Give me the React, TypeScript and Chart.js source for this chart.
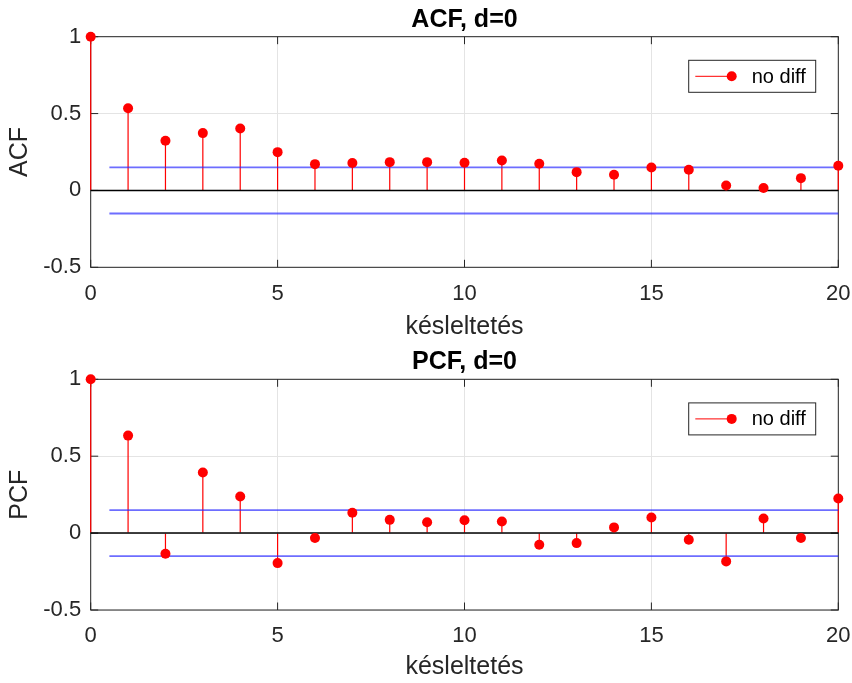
import React, { useEffect, useRef } from "react";
import { Chart, registerables } from "chart.js";

Chart.register(...registerables);

// ---- data ----
const lags = [0, 1, 2, 3, 4, 5, 6, 7, 8, 9, 10, 11, 12, 13, 14, 15, 16, 17, 18, 19, 20];
const acfValues = [1, 0.535, 0.323, 0.373, 0.403, 0.249, 0.171, 0.178, 0.184, 0.184, 0.18, 0.195, 0.173, 0.119, 0.102, 0.149, 0.134, 0.032, 0.016, 0.08, 0.16];
const pcfValues = [1, 0.634, -0.134, 0.394, 0.238, -0.195, -0.032, 0.132, 0.086, 0.071, 0.084, 0.076, -0.076, -0.065, 0.037, 0.101, -0.043, -0.184, 0.095, -0.032, 0.225];
const confBound = 0.15;
const boundStart = 0.5;
const xTicks = [0, 5, 10, 15, 20];
const yTicks = [-0.5, 0, 0.5, 1];
const seriesLabel = "no diff";
const xTitle = "késleltetés";
const acfTitle = "ACF, d=0";
const pcfTitle = "PCF, d=0";

const FAMILY = "'Liberation Sans', Arial, Helvetica, sans-serif";
const AXIS_COLOR = "#262626";
const RED = "#ff0000";
const BLUE = "rgba(40,40,255,0.68)";

type Geo = { H: number; top: number; bottom: number; titlePadTop: number };

const boxPlugin = {
  id: "matlabBox",
  beforeDatasetsDraw(chart: any) {
    const { ctx, chartArea: a, scales } = chart;
    ctx.save();
    ctx.strokeStyle = AXIS_COLOR;
    ctx.lineWidth = 1;
    ctx.strokeRect(a.left, a.top, a.right - a.left, a.bottom - a.top);
    const tl = 7.5;
    ctx.beginPath();
    xTicks.forEach((v) => {
      const px = scales.x.getPixelForValue(v);
      ctx.moveTo(px, a.bottom);
      ctx.lineTo(px, a.bottom - tl);
      ctx.moveTo(px, a.top);
      ctx.lineTo(px, a.top + tl);
    });
    yTicks.forEach((v) => {
      const py = scales.y.getPixelForValue(v);
      ctx.moveTo(a.left, py);
      ctx.lineTo(a.left + tl, py);
      ctx.moveTo(a.right, py);
      ctx.lineTo(a.right - tl, py);
    });
    ctx.stroke();
    ctx.restore();
  },
  afterDraw(chart: any) {
    const { ctx, chartArea: a } = chart;
    const w = 127;
    const h = 32;
    const left = a.right - 22.6 - w;
    const top = a.top + 23.6;
    ctx.save();
    ctx.fillStyle = "#ffffff";
    ctx.fillRect(left, top, w, h);
    ctx.strokeStyle = AXIS_COLOR;
    ctx.lineWidth = 1;
    ctx.strokeRect(left, top, w, h);
    const cy = top + h / 2;
    ctx.strokeStyle = RED;
    ctx.beginPath();
    ctx.moveTo(left + 6.6, cy);
    ctx.lineTo(left + 43, cy);
    ctx.stroke();
    ctx.fillStyle = RED;
    ctx.beginPath();
    ctx.arc(left + 43, cy, 5, 0, Math.PI * 2);
    ctx.fill();
    ctx.fillStyle = "#000";
    ctx.font = `20px ${FAMILY}`;
    ctx.textBaseline = "middle";
    ctx.textAlign = "left";
    ctx.fillText(seriesLabel, left + 63, cy + 1);
    ctx.restore();
  },
};

function makeConfig(values: number[], title: string, yLabel: string, g: Geo): any {
  const pts = lags.map((l, i) => ({ x: l, y: values[i] }));
  const first = lags[0];
  const last = lags[lags.length - 1];
  return {
    type: "scatter",
    data: {
      datasets: [
        {
          type: "scatter",
          label: seriesLabel,
          data: pts,
          pointRadius: 5,
          pointHoverRadius: 5,
          backgroundColor: RED,
          borderWidth: 0,
          clip: false,
          order: 0,
        },
        {
          type: "line",
          data: [
            { x: first, y: 0 },
            { x: last, y: 0 },
          ],
          showLine: true,
          borderColor: "#000000",
          borderWidth: 1.5,
          pointRadius: 0,
          clip: false,
          order: 1,
        },
        {
          type: "line",
          data: [
            { x: boundStart, y: confBound },
            { x: last, y: confBound },
          ],
          showLine: true,
          borderColor: BLUE,
          borderWidth: 1.8,
          pointRadius: 0,
          clip: false,
          order: 2,
        },
        {
          type: "line",
          data: [
            { x: boundStart, y: -confBound },
            { x: last, y: -confBound },
          ],
          showLine: true,
          borderColor: BLUE,
          borderWidth: 1.8,
          pointRadius: 0,
          clip: false,
          order: 2,
        },
        {
          type: "bar",
          data: pts,
          backgroundColor: RED,
          borderWidth: 0,
          barThickness: 1.2,
          inflateAmount: 0,
          clip: false,
          order: 3,
        },
      ],
    },
    options: {
      responsive: false,
      animation: false,
      devicePixelRatio: 1,
      events: [],
      layout: { padding: { left: 0, right: 852 - 838.3, top: 0, bottom: 0 } },
      plugins: {
        legend: { display: false },
        tooltip: { enabled: false },
        title: {
          display: true,
          fullSize: false,
          align: "center",
          text: title,
          color: "#000",
          font: { size: 25, weight: "bold", family: FAMILY, lineHeight: 1.2 },
          padding: { top: g.titlePadTop, bottom: g.top - 30 - g.titlePadTop },
        },
      },
      scales: {
        x: {
          type: "linear",
          min: 0,
          max: 20,
          offset: false,
          afterBuildTicks: (s: any) => {
            s.ticks = xTicks.map((v) => ({ value: v }));
          },
          afterFit: (s: any) => {
            s.height = g.H - g.bottom;
            s.paddingLeft = 0;
            s.paddingRight = 0;
          },
          ticks: {
            color: AXIS_COLOR,
            font: { size: 22, family: FAMILY },
            padding: 13,
            maxRotation: 0,
            autoSkip: false,
            callback: (v: any) => String(v),
          },
          grid: { color: "#e4e4e4", lineWidth: 1, drawTicks: false, offset: false },
          border: { display: false },
          title: {
            display: true,
            text: xTitle,
            color: AXIS_COLOR,
            font: { size: 25, family: FAMILY, lineHeight: 1.2 },
            padding: { top: 0, bottom: 0.4 },
          },
        },
        y: {
          type: "linear",
          min: -0.5,
          max: 1,
          afterBuildTicks: (s: any) => {
            s.ticks = yTicks.map((v) => ({ value: v }));
          },
          afterFit: (s: any) => {
            s.width = 90.7;
            s.paddingTop = 0;
            s.paddingBottom = 0;
          },
          ticks: {
            color: AXIS_COLOR,
            font: { size: 22, family: FAMILY },
            padding: 9.5,
            callback: (v: any) => String(v),
          },
          grid: { color: "#e4e4e4", lineWidth: 1, drawTicks: false },
          border: { display: false },
          title: {
            display: true,
            text: yLabel,
            color: AXIS_COLOR,
            font: { size: 25, family: FAMILY, lineHeight: 1.2 },
            padding: { top: 4.7, bottom: 0 },
          },
        },
      },
    },
    plugins: [boxPlugin],
  };
}

function Panel(props: { values: number[]; title: string; yLabel: string; g: Geo; y: number }) {
  const ref = useRef<HTMLCanvasElement | null>(null);
  useEffect(() => {
    if (!ref.current) return;
    const chart = new Chart(ref.current, makeConfig(props.values, props.title, props.yLabel, props.g));
    return () => chart.destroy();
  }, []);
  return (
    <canvas
      ref={ref}
      width={852}
      height={props.g.H}
      style={{ position: "absolute", left: 0, top: props.y, width: 852, height: props.g.H, display: "block" }}
    />
  );
}

export default function App() {
  return (
    <div style={{ position: "absolute", left: 0, top: 0, width: 852, height: 683, background: "#fff", overflow: "hidden" }}>
      <Panel values={acfValues} title={acfTitle} yLabel="ACF" g={{ H: 343, top: 36.7, bottom: 267.3, titlePadTop: 5.3 }} y={0} />
      <Panel values={pcfValues} title={pcfTitle} yLabel="PCF" g={{ H: 340, top: 36.3, bottom: 267, titlePadTop: 4.6 }} y={343} />
    </div>
  );
}
